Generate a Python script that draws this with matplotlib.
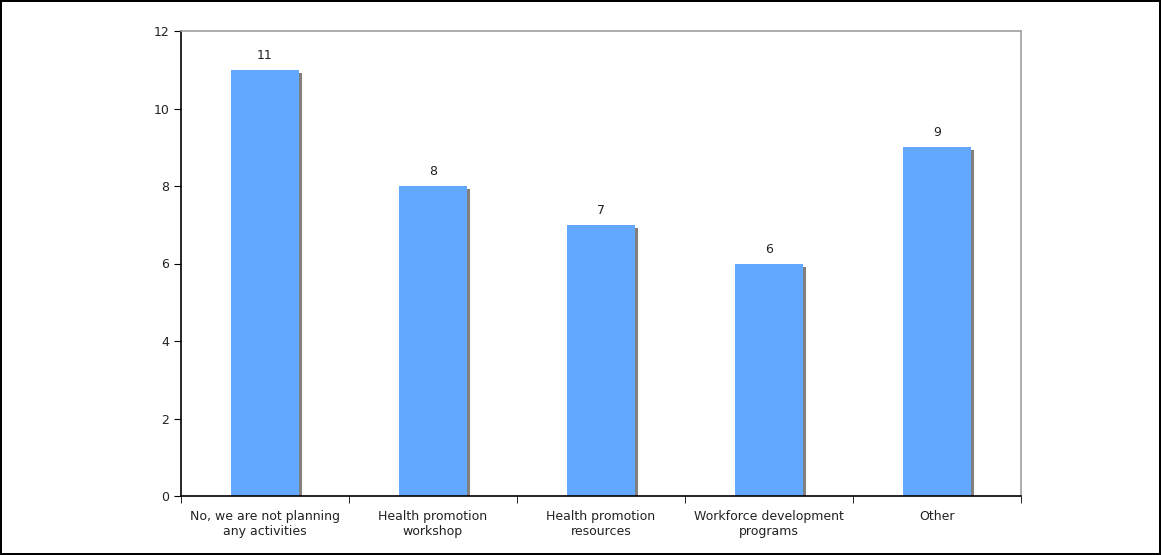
import matplotlib
matplotlib.use("Agg")
import numpy as np
import matplotlib.pyplot as plt
import matplotlib.transforms as mtransforms

categories = ["No, we are not planning\nany activities", "Health promotion\nworkshop",
              "Health promotion\nresources", "Workforce development\nprograms", "Other"]
values = [11, 8, 7, 6, 9]

plt.rcParams['font.family'] = ['Verdana', 'DejaVu Sans']
plt.rcParams['font.size'] = 9

fig = plt.figure(figsize=(11.61, 5.55), dpi=100)
fig.patch.set_edgecolor('black')
fig.patch.set_linewidth(1.5)
ax = fig.add_axes([181/1161, 1 - 496/555, 840/1161, 465/555])

x = np.arange(len(values))
# shadow
shadow = mtransforms.offset_copy(ax.transData, fig=fig, x=3, y=-3, units='dots')
ax.bar(x, values, width=0.4, color='#808080', transform=shadow, zorder=1)
ax.bar(x, values, width=0.4, color='#62A8FF', zorder=2)

for xi, v in zip(x, values):
    ax.text(xi, v + 0.2, str(v), ha='center', va='bottom', fontsize=9, color='#222222')

ax.set_xlim(-0.5, len(values) - 0.5)
ax.set_ylim(0, 12)
ax.set_yticks(range(0, 13, 2))
ax.set_xticks(x)
ax.set_xticklabels(categories, fontsize=9, color='#222222')
ax.tick_params(axis='x', length=0, pad=10)
ax.set_xticks(np.arange(-0.5, len(values)), minor=True)
ax.tick_params(axis='x', which='minor', length=5, direction='out')
ax.tick_params(axis='y', length=5, direction='out', labelsize=9, labelcolor='#222222')

ax.spines['left'].set_color('black')
ax.spines['bottom'].set_color('black')
ax.spines['top'].set_color('#a0a0a0')
ax.spines['right'].set_color('#a0a0a0')
for s in ax.spines.values():
    s.set_linewidth(1.2)

fig.savefig('out.png', dpi=100, edgecolor=fig.get_edgecolor())
